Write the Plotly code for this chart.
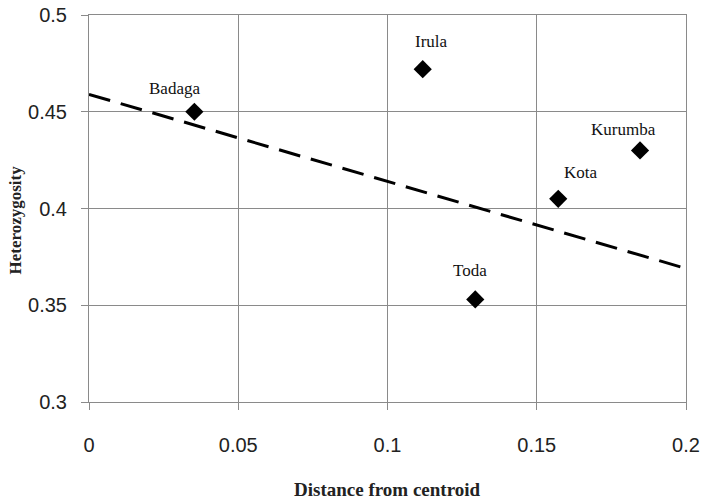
import plotly.graph_objects as go

populations = ["Badaga", "Irula", "Kurumba", "Kota", "Toda"]
distance = [0.0353, 0.1118, 0.1846, 0.1572, 0.1294]
heterozygosity = [0.450, 0.472, 0.430, 0.405, 0.353]

trend_x = [0.0, 0.2]
trend_y = [0.459, 0.369]

x_ticks = [0, 0.05, 0.1, 0.15, 0.2]
x_tick_labels = ["0", "0.05", "0.1", "0.15", "0.2"]
y_ticks = [0.3, 0.35, 0.4, 0.45, 0.5]
y_tick_labels = ["0.3", "0.35", "0.4", "0.45", "0.5"]

label_shift = {
    "Badaga": (-20, 23),
    "Irula": (9, 28),
    "Kurumba": (-17, 21),
    "Kota": (23, 26),
    "Toda": (-5, 29),
}

serif = "Liberation Serif, Times New Roman, serif"

fig = go.Figure()
fig.add_trace(go.Scatter(
    x=trend_x, y=trend_y, mode="lines",
    line=dict(color="black", width=3, dash="22px,11px"),
    hoverinfo="skip", showlegend=False,
))
fig.add_trace(go.Scatter(
    x=distance, y=heterozygosity, mode="markers",
    marker=dict(symbol="diamond", color="black", size=14),
    text=populations, showlegend=False,
))

for name, xv, yv in zip(populations, distance, heterozygosity):
    dx, dy = label_shift[name]
    fig.add_annotation(
        x=xv, y=yv, text=name, showarrow=False,
        xshift=dx, yshift=dy,
        font=dict(family=serif, size=17, color="#111"),
    )

fig.add_annotation(
    x=0.5, xref="paper", y=0, yref="paper", yshift=-87,
    xanchor="center", yanchor="middle",
    text="<b>Distance from centroid</b>", showarrow=False,
    font=dict(family=serif, size=19, color="#222"),
)
fig.add_annotation(
    x=0, xref="paper", xshift=-74, y=0.5, yref="paper", yshift=-12,
    xanchor="center", yanchor="middle",
    text="<b>Heterozygosity</b>", showarrow=False, textangle=-90,
    font=dict(family=serif, size=17, color="#222"),
)

axis_common = dict(
    showgrid=True, gridcolor="#8a8a8a", gridwidth=1,
    showline=True, linecolor="#8a8a8a", linewidth=1, mirror=True,
    ticks="outside", ticklen=7, tickcolor="#8a8a8a",
    zeroline=False, automargin=False, ticklabeloverflow="allow",
    tickfont=dict(family="Liberation Sans, Arial, sans-serif", size=20, color="#222"),
)

fig.update_layout(
    width=703, height=504,
    margin=dict(l=89, r=17, t=15, b=102),
    plot_bgcolor="white", paper_bgcolor="white",
    xaxis=dict(
        range=[0, 0.2], tickvals=x_ticks, ticktext=x_tick_labels,
        ticklabelstandoff=18,
        **axis_common,
    ),
    yaxis=dict(
        range=[0.3, 0.5], tickvals=y_ticks, ticktext=y_tick_labels,
        ticklabelstandoff=10,
        **axis_common,
    ),
)

fig.write_html(
    "out.html",
    config={"displayModeBar": False},
    post_script="document.body.style.margin='0';document.body.style.overflow='hidden';",
)
